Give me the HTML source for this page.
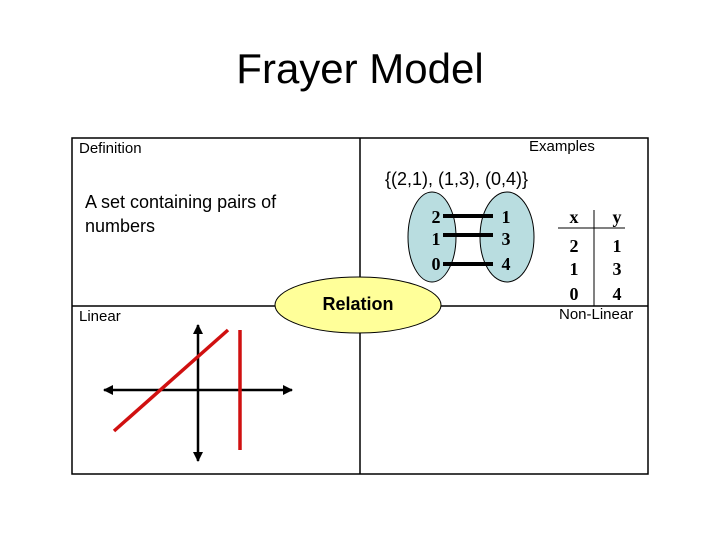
<!DOCTYPE html>
<html><head><style>body{margin:0;background:#fff}svg{display:block}</style></head><body>
<svg width="720" height="540" xmlns="http://www.w3.org/2000/svg" font-family="Liberation Sans, Arial, sans-serif">
<defs><marker id="a" viewBox="0 0 10 10" refX="9" refY="5" markerWidth="4" markerHeight="4" orient="auto-start-reverse"><path d="M0,0L10,5L0,10z" fill="#000"/></marker></defs>
<text x="360" y="83" font-size="42" text-anchor="middle">Frayer Model</text>
<rect x="72" y="138" width="576" height="336" fill="none" stroke="#000" stroke-width="1.5"/>
<line x1="72" y1="306" x2="648" y2="306" stroke="#000" stroke-width="1.5"/>
<line x1="360" y1="138" x2="360" y2="474" stroke="#000" stroke-width="1.5"/>
<text x="79" y="153" font-size="15">Definition</text>
<text x="529" y="151" font-size="15">Examples</text>
<text x="85" y="208" font-size="18">A set containing pairs of</text>
<text x="85" y="232" font-size="18">numbers</text>
<text x="79" y="321" font-size="15">Linear</text>
<text x="559" y="319" font-size="15">Non-Linear</text>
<text x="385" y="185" font-size="18">{(2,1), (1,3), (0,4)}</text>
<ellipse cx="432" cy="237" rx="24" ry="45" fill="#b9dde0" stroke="#000"/>
<ellipse cx="507" cy="237" rx="27" ry="45" fill="#b9dde0" stroke="#000"/>
<g stroke="#000" stroke-width="4"><line x1="443" y1="216" x2="493" y2="216"/><line x1="443" y1="235" x2="493" y2="235"/><line x1="443" y1="264" x2="493" y2="264"/></g>
<g font-family="Liberation Serif, serif" font-weight="bold" font-size="18" text-anchor="middle">
<text x="436" y="223">2</text><text x="436" y="245">1</text><text x="436" y="270">0</text>
<text x="506" y="223">1</text><text x="506" y="245">3</text><text x="506" y="270">4</text>
<text x="574" y="223">x</text><text x="617" y="223">y</text>
<text x="574" y="252">2</text><text x="617" y="252">1</text>
<text x="574" y="275">1</text><text x="617" y="275">3</text>
<text x="574" y="300">0</text><text x="617" y="300">4</text>
</g>
<line x1="558" y1="228" x2="625" y2="228" stroke="#000"/>
<line x1="594" y1="210" x2="594" y2="306" stroke="#000"/>
<ellipse cx="358" cy="305" rx="83" ry="28" fill="#ffff99" stroke="#000"/>
<text x="358" y="310" font-size="18" font-weight="bold" text-anchor="middle">Relation</text>
<g stroke="#000" stroke-width="2.5"><line x1="104" y1="390" x2="292" y2="390" marker-start="url(#a)" marker-end="url(#a)"/><line x1="198" y1="325" x2="198" y2="461" marker-start="url(#a)" marker-end="url(#a)"/></g>
<g stroke="#d01010" stroke-width="3.5"><line x1="114" y1="431" x2="228" y2="330"/><line x1="240" y1="330" x2="240" y2="450"/></g>
</svg>
</body></html>
